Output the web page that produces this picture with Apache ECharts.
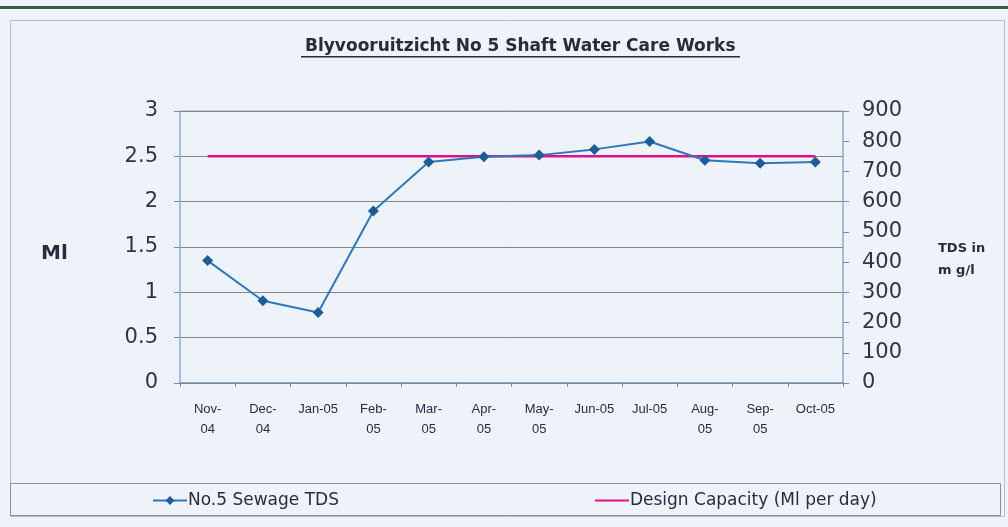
<!DOCTYPE html>
<html>
<head>
<meta charset="utf-8">
<script src="https://cdn.jsdelivr.net/npm/echarts@6/dist/echarts.min.js"></script>
<style>
  html, body { margin: 0; padding: 0; background: #eef3fa; }
  #main { width: 1008px; height: 527px; }
</style>
</head>
<body>
<div id="main"></div>
<script>
var months = ['Nov-04', 'Dec-04', 'Jan-05', 'Feb-05', 'Mar-05', 'Apr-05',
  'May-05', 'Jun-05', 'Jul-05', 'Aug-05', 'Sep-05', 'Oct-05']
// labels Excel kept on one line
var oneLine = ['Jan-05', 'Jun-05', 'Jul-05', 'Oct-05']
var tdsValues = [405, 272, 233, 569, 731, 749, 754, 773, 799, 737, 727, 731]
var designCapacity = [2.5, 2.5, 2.5, 2.5, 2.5, 2.5, 2.5, 2.5, 2.5, 2.5, 2.5, 2.5]

var chart = echarts.init(document.getElementById('main'))
var labelFont = 'Liberation Sans, Arial, sans-serif'
var wideFont = 'DejaVu Sans, Verdana, sans-serif'

var option = {
  backgroundColor: '#eef3fa',
  animation: false,
  graphic: [
    { type: 'rect', shape: { x: 0, y: 6, width: 1008, height: 3 }, style: { fill: '#3d5a4a' } },
    { type: 'rect', shape: { x: 10.5, y: 20.5, width: 994, height: 496 }, style: { fill: 'none', stroke: '#b8bec6', lineWidth: 1 } },
    { type: 'rect', shape: { x: 10.5, y: 483.5, width: 990, height: 32 }, style: { fill: 'none', stroke: '#8a9099', lineWidth: 1 } },
    // plot area top border
    { type: 'rect', shape: { x: 180, y: 110.5, width: 663, height: 1 }, style: { fill: '#8fa8d8' } },
    {
      type: 'text', left: 305, top: 38,
      style: { text: 'Blyvooruitzicht No 5 Shaft Water Care Works', fill: '#2b2b35', font: 'bold 17px ' + wideFont }
    },
    { type: 'rect', shape: { x: 301, y: 56, width: 439, height: 1.5 }, style: { fill: '#2b2b35' } },
    { type: 'text', left: 41, top: 244, style: { text: 'Ml', fill: '#2b2b40', font: 'bold 20px ' + wideFont } },
    { type: 'text', left: 938, top: 238, style: { text: 'TDS in\nm g/l', fill: '#2b2b40', font: 'bold 13px ' + wideFont, lineHeight: 22 } }
  ],
  legend: {
    bottom: 13,
    left: 147,
    itemGap: 255,
    itemWidth: 34,
    itemHeight: 11,
    textStyle: { fontFamily: wideFont, fontSize: 17, color: '#2b2b40', padding: [0, 0, 0, -4] },
    data: [
      { name: 'No.5 Sewage TDS' },
      { name: 'Design Capacity (Ml per day)', itemStyle: { opacity: 0 } }
    ]
  },
  grid: { left: 180, right: 165, top: 111, bottom: 144 },
  xAxis: {
    type: 'category',
    data: months,
    boundaryGap: true,
    axisLine: { lineStyle: { color: '#7a8aa8', width: 1.5 } },
    axisTick: { show: true, length: 4, lineStyle: { color: '#7a8aa8' } },
    axisLabel: {
      interval: 0,
      margin: 16,
      fontFamily: labelFont,
      fontSize: 13,
      lineHeight: 20,
      color: '#2b2b40',
      formatter: function (v) {
        return oneLine.indexOf(v) >= 0 ? v : v.replace('-', '-\n')
      }
    }
  },
  yAxis: [
    {
      type: 'value',
      min: 0, max: 3, interval: 0.5,
      position: 'left',
      axisLine: { show: true, lineStyle: { color: '#8fa8d8', width: 1.5 } },
      axisTick: { show: true, length: 6, lineStyle: { color: '#7a8aa8' } },
      axisLabel: { fontFamily: wideFont, fontSize: 21, color: '#333344', margin: 22 },
      splitLine: { lineStyle: { color: '#858585', width: 1 } }
    },
    {
      type: 'value',
      min: 0, max: 900, interval: 100,
      position: 'right',
      axisLine: { show: true, lineStyle: { color: '#8fa8d8', width: 1.5 } },
      axisTick: { show: true, length: 6, lineStyle: { color: '#7a8aa8' } },
      axisLabel: { fontFamily: wideFont, fontSize: 21, color: '#333344', margin: 19 },
      splitLine: { show: false }
    }
  ],
  series: [
    {
      name: 'No.5 Sewage TDS',
      type: 'line',
      yAxisIndex: 1,
      data: tdsValues,
      symbol: 'diamond',
      symbolSize: 11,
      lineStyle: { color: '#2f78b8', width: 2 },
      itemStyle: { color: '#1f5d98' },
      z: 3
    },
    {
      name: 'Design Capacity (Ml per day)',
      type: 'line',
      yAxisIndex: 0,
      data: designCapacity,
      symbol: 'none',
      lineStyle: { color: '#e0108a', width: 2.5 },
      itemStyle: { color: '#e0108a' },
      z: 2
    }
  ]
}

chart.setOption(option)
</script>
</body>
</html>
